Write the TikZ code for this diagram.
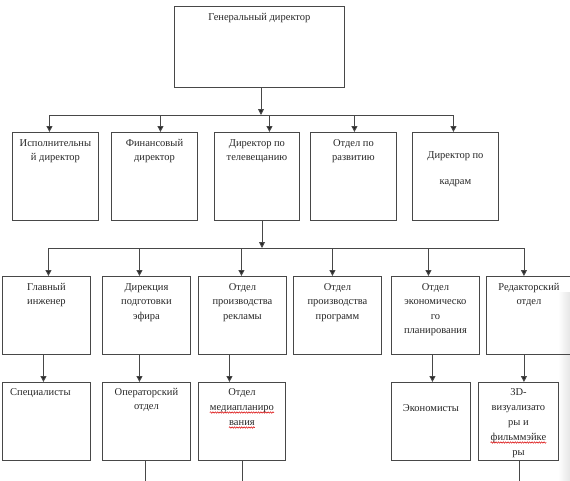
\documentclass[tikz,border=0pt]{standalone}
\usepackage{fontspec}
\setmainfont{Liberation Serif}
\usetikzlibrary{arrows.meta,decorations.pathmorphing}
\definecolor{linec}{HTML}{484848}
\definecolor{txtc}{HTML}{262626}
\newcommand\fnt{\fontsize{10.5}{14.5}\selectfont}
\begin{document}
\begin{tikzpicture}[x=1pt,y=-1pt,
  box/.style={draw=linec, line width=0.9pt, inner sep=0pt, anchor=north west},
  txt/.style={font=\fnt, text=txtc, align=center, inner sep=0pt, anchor=north},
  ltxt/.style={font=\fnt, text=txtc, inner sep=0pt, anchor=base},
  arr/.style={draw=linec, line width=0.9pt, -{Triangle[width=6pt,length=6pt,fill=black!85]}},
  ln/.style={draw=linec, line width=0.9pt},
  wav/.style={draw=red!85!black, line width=0.5pt, decorate, decoration={snake, amplitude=0.7pt, segment length=2.4pt}}]
\useasboundingbox (0,0) rectangle (570,480);
\clip (0,0) rectangle (570,480);
\shade[left color=white, right color=black!10] (558,292) rectangle (570,480);
% level 1
\node[box, minimum width=170pt, minimum height=81pt] (gd) at (174,6) {};
\node[txt] at ([yshift=-4pt]gd.north) {\strut Генеральный директор};
% level 2
\node[box, minimum width=86pt, minimum height=88pt] (r2a) at (12,132) {};
\node[box, minimum width=86pt, minimum height=88pt] (r2b) at (111,132) {};
\node[box, minimum width=85pt, minimum height=88pt] (r2c) at (214,132) {};
\node[box, minimum width=86pt, minimum height=88pt] (r2d) at (310,132) {};
\node[box, minimum width=86pt, minimum height=88pt] (r2e) at (412,132) {};
\node[txt] at ([yshift=-4pt]r2a.north) {\strut Исполнительны\\й директор};
\node[txt] at ([yshift=-4pt]r2b.north) {\strut Финансовый\\директор};
\node[txt] at ([yshift=-4pt]r2c.north) {\strut Директор по\\телевещанию};
\node[txt] at ([yshift=-4pt]r2d.north) {\strut Отдел по\\развитию};
\node[txt] at ([yshift=-16pt]r2e.north) {\strut Директор по\\[11.5pt]кадрам};
% level 3
\node[box, minimum width=88pt, minimum height=78pt] (r3a) at (2,276) {};
\node[box, minimum width=88pt, minimum height=78pt] (r3b) at (102,276) {};
\node[box, minimum width=88pt, minimum height=78pt] (r3c) at (198,276) {};
\node[box, minimum width=88pt, minimum height=78pt] (r3d) at (293,276) {};
\node[box, minimum width=88pt, minimum height=78pt] (r3e) at (391,276) {};
\node[box, minimum width=85pt, minimum height=78pt] (r3f) at (486,276) {};
\node[txt] at ([yshift=-4pt]r3a.north) {\strut Главный\\инженер};
\node[txt] at ([yshift=-4pt]r3b.north) {\strut Дирекция\\подготовки\\эфира};
\node[txt] at ([yshift=-4pt]r3c.north) {\strut Отдел\\производства\\рекламы};
\node[txt] at ([yshift=-4pt]r3d.north) {\strut Отдел\\производства\\программ};
\node[txt] at ([yshift=-4pt]r3e.north) {\strut Отдел\\экономическо\\го\\планирования};
\node[txt] at ([yshift=-4pt]r3f.north) {\strut Редакторский\\отдел};
% level 4
\node[box, minimum width=88pt, minimum height=78pt] (r4a) at (2,382) {};
\node[box, minimum width=88pt, minimum height=78pt] (r4b) at (102,382) {};
\node[box, minimum width=87pt, minimum height=78pt] (r4c) at (198,382) {};
\node[box, minimum width=79pt, minimum height=78pt] (r4e) at (391,382) {};
\node[box, minimum width=80pt, minimum height=78pt] (r4f) at (478,382) {};
\node[ltxt, anchor=base west] at ([xshift=8pt,yshift=-13pt]r4a.north west) {Специалисты};
\node[txt] at ([yshift=-3pt]r4b.north) {\strut Операторский\\отдел};
\node[ltxt] (c1) at ([yshift=-13pt]r4c.north) {Отдел};
\node[ltxt] (c2) at ([yshift=-28pt]r4c.north) {медиапланиро};
\node[ltxt] (c3) at ([yshift=-43pt]r4c.north) {вания};
\node[ltxt] at ([yshift=-29pt]r4e.north) {Экономисты};
\node[ltxt] (f1) at ([yshift=-13pt]r4f.north) {3D-};
\node[ltxt] (f2) at ([yshift=-28pt]r4f.north) {визуализато};
\node[ltxt] (f3) at ([yshift=-43pt]r4f.north) {ры и};
\node[ltxt] (f4) at ([yshift=-58pt]r4f.north) {фильммэйке};
\node[ltxt] (f5) at ([yshift=-73pt]r4f.north) {ры};
\draw[wav] ([yshift=-2.5pt]c2.base west) -- ([yshift=-2.5pt]c2.base east);
\draw[wav] ([yshift=-2.5pt]c3.base west) -- ([yshift=-2.5pt]c3.base east);
\draw[wav] ([yshift=-2.5pt]f4.base west) -- ([yshift=-2.5pt]f4.base east);
% connectors level 1 -> 2
\coordinate (j0) at (261,115);
\draw[arr] (gd.south -| j0) -- (j0);
\draw[arr] (j0) -| ([xshift=-6pt]r2a.north);
\draw[arr] (j0) -| ([xshift=6pt]r2b.north);
\draw[arr] (j0) -| ([xshift=12.5pt]r2c.north);
\draw[arr] (j0) -| ([xshift=1pt]r2d.north);
\draw[arr] (j0) -| ([xshift=-2pt]r2e.north);
% connectors level 2 -> 3
\coordinate (j1) at (262,248);
\draw[arr] (r2c.south -| j1) -- (j1);
\draw[arr] (j1) -| ([xshift=2pt]r3a.north);
\draw[arr] (j1) -| ([xshift=-7pt]r3b.north);
\draw[arr] (j1) -| ([xshift=-1pt]r3c.north);
\draw[arr] (j1) -| ([xshift=-5pt]r3d.north);
\draw[arr] (j1) -| ([xshift=-7pt]r3e.north);
\draw[arr] (j1) -| ([xshift=-5pt]r3f.north);
% connectors level 3 -> 4
\path ([xshift=-3pt]r3a.south) coordinate (t1);
\path ([xshift=-7pt]r3b.south) coordinate (t2);
\path ([xshift=-13pt]r3c.south) coordinate (t3);
\path ([xshift=-3pt]r3e.south) coordinate (t5);
\path ([xshift=-5pt]r3f.south) coordinate (t6);
\draw[arr] (t1) -- (t1 |- r4a.north);
\draw[arr] (t2) -- (t2 |- r4b.north);
\draw[arr] (t3) -- (t3 |- r4c.north);
\draw[arr] (t5) -- (t5 |- r4e.north);
\draw[arr] (t6) -- (t6 |- r4f.north);
% lines leaving the picture
\coordinate (bot) at (0,482);
\path ([xshift=-1pt]r4b.south) coordinate (u2);
\path (r4c.south) coordinate (u3);
\path ([xshift=1pt]r4f.south) coordinate (u6);
\draw[ln] (u2) -- (u2 |- bot);
\draw[ln] (u3) -- (u3 |- bot);
\draw[ln] (u6) -- (u6 |- bot);
\end{tikzpicture}
\end{document}
